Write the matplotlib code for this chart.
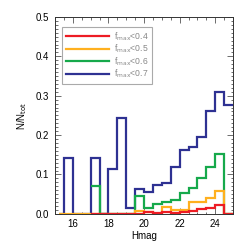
import matplotlib
matplotlib.use('Agg')
import matplotlib.pyplot as plt
import numpy as np
from matplotlib.ticker import MultipleLocator

plt.rcParams['font.family'] = ['Liberation Sans', 'DejaVu Sans']

# H-band magnitude bins, 0.5 mag wide, 15.5 .. 25.0
bin_edges = np.arange(15.5, 25.01, 0.5)

# fraction of sources per bin, one list per f_max cut
frac_07 = [0.143, 0.0, 0.0, 0.143, 0.0, 0.113, 0.244, 0.015, 0.063, 0.056,
           0.073, 0.078, 0.118, 0.161, 0.169, 0.195, 0.261, 0.309, 0.276]
frac_06 = [0.0, 0.0, 0.0, 0.072, 0.0, 0.0, 0.0, 0.0, 0.046, 0.016,
           0.026, 0.031, 0.035, 0.053, 0.066, 0.091, 0.118, 0.153, 0.0]
frac_05 = [0.0, 0.0, 0.0, 0.0, 0.0, 0.0, 0.0, 0.0, 0.008, 0.005,
           0.0, 0.017, 0.011, 0.011, 0.031, 0.030, 0.040, 0.059, 0.0]
frac_04 = [0.0, 0.0, 0.0, 0.0, 0.0, 0.0, 0.0, 0.0, 0.0, 0.004,
           0.002, 0.004, 0.003, 0.005, 0.008, 0.012, 0.016, 0.023, 0.0]

labels = [r'f$_{\rm max}$<0.4', r'f$_{\rm max}$<0.5',
          r'f$_{\rm max}$<0.6', r'f$_{\rm max}$<0.7']
colors = ['#ed1c24', '#ffb01f', '#16a94b', '#2e3192']
# first bin where each histogram starts (the red/green ones start later)
first_bin = [3, 0, 3, 0]

fig = plt.figure(figsize=(2.49, 2.49), dpi=100)
ax = fig.add_axes([0.221, 0.141, 0.715, 0.791])

series = [frac_04, frac_05, frac_06, frac_07]
order = [3, 2, 1, 0]
for i in order:
    vals = np.array(series[i])[first_bin[i]:]
    edges = bin_edges[first_bin[i]:]
    if first_bin[i] == 0:
        # leading empty half bin
        edges = np.concatenate([[edges[0] - 0.25], edges])
        vals = np.concatenate([[0.0], vals])
    ax.stairs(vals, edges, color=colors[i], lw=1.6, baseline=None,
              label=labels[i], zorder=3 + (3 - i))

ax.set_xlim(15, 25)
ax.set_ylim(0, 0.5)
ax.xaxis.set_major_locator(MultipleLocator(2))
ax.xaxis.set_minor_locator(MultipleLocator(0.5))
ax.yaxis.set_major_locator(MultipleLocator(0.1))
ax.yaxis.set_minor_locator(MultipleLocator(0.01))
ax.yaxis.set_major_formatter(matplotlib.ticker.FormatStrFormatter('%.1f'))
ax.tick_params(which='both', direction='in', top=True, right=True,
               color='#555555', width=0.6, labelsize=7, labelcolor='#000000')
ax.tick_params(which='major', length=4.5)
ax.tick_params(which='minor', length=1.8)
ax.tick_params(axis='x', pad=4)
ax.tick_params(axis='y', pad=4)
for s in ax.spines.values():
    s.set_linewidth(0.7)
    s.set_color('#333333')

ax.set_xlabel('Hmag', fontsize=7, labelpad=1)
ax.set_ylabel(r'N/N$_{\rm tot}$', fontsize=7, labelpad=5)

handles, labs = ax.get_legend_handles_labels()
idx = [labs.index(l) for l in labels]
leg = ax.legend([handles[k] for k in idx], [labs[k] for k in idx],
                loc='upper left', bbox_to_anchor=(0.04, 0.95), fontsize=6.2,
                handlelength=5.0, handletextpad=0.6, labelspacing=0.0,
                borderpad=0.4, fancybox=False, framealpha=1,
                edgecolor='#aaaaaa', borderaxespad=0)
leg.get_frame().set_linewidth(0.8)
for t in leg.get_texts():
    t.set_color('#888888')

fig.savefig('out.png', dpi=100)
